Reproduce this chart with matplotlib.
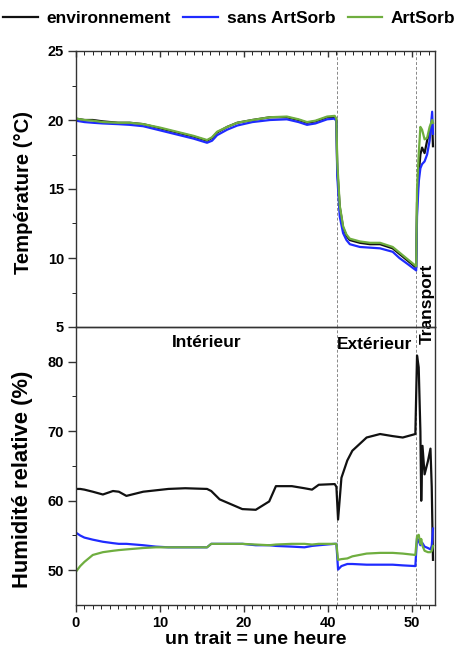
import matplotlib
matplotlib.use("Agg")
import matplotlib.pyplot as plt
from matplotlib.ticker import MultipleLocator, FixedLocator

plt.rcParams['font.family'] = ['Liberation Sans', 'DejaVu Sans']
plt.rcParams['font.weight'] = 'bold'

# ---- data (x in axis position units, one unit = one hour tick) ----
x_temp = [0, 1, 2, 3.2, 5, 6.4, 8, 10, 12, 14,
          15.6, 16.2, 16.8, 18, 19.2, 21, 23.1, 25.1, 26.5, 27.5,
          28.5, 29.9, 30.8, 31.0, 31.1, 31.4, 31.8, 32.2, 32.6, 33.8,
          35, 36.2, 37.7, 38.5, 39.4, 40.5, 40.6, 40.8, 41.0, 41.2,
          41.5, 41.8, 42.1, 42.4, 42.5]
temp_env = [20.1, 20.0, 20.0, 19.9, 19.8, 19.8, 19.7, 19.4, 19.1, 18.8,
            18.5, 18.7, 19.1, 19.5, 19.8, 20.0, 20.2, 20.2, 20.0, 19.8,
            19.9, 20.2, 20.2, 20.0, 16.5, 13.7, 12.2, 11.6, 11.3, 11.1,
            11.0, 11.0, 10.7, 10.3, 9.85, 9.3, 14.0, 16.0, 17.5, 18.0,
            17.6, 18.5, 19.2, 19.8, 18.1]
temp_sans = [19.95, 19.85, 19.8, 19.75, 19.7, 19.65, 19.55, 19.25, 18.95, 18.65,
             18.35, 18.5, 18.9, 19.3, 19.6, 19.85, 20.0, 20.05, 19.85, 19.65,
             19.75, 20.05, 20.1, 19.9, 16.0, 13.0, 11.8, 11.3, 11.0, 10.8,
             10.75, 10.7, 10.45, 10.0, 9.6, 9.1, 13.0, 15.5, 16.5, 16.8,
             17.0, 17.5, 18.5, 20.6, 19.0]
temp_art = [20.1, 20.0, 19.95, 19.85, 19.8, 19.8, 19.7, 19.45, 19.15, 18.85,
            18.55, 18.75, 19.15, 19.5, 19.8, 20.0, 20.2, 20.25, 20.05, 19.85,
            19.95, 20.25, 20.3, 20.1, 17.0, 13.8, 12.3, 11.7, 11.4, 11.2,
            11.1, 11.1, 10.8, 10.4, 9.95, 9.4, 15.0, 17.5, 19.5, 19.3,
            18.6, 18.7, 19.5, 20.0, 19.8]

x_rh = [0, 0.5, 1, 2, 3.2, 4.4, 5.1, 6, 7, 8,
        9.5, 11, 13, 15.6, 16.1, 17.1, 19.8, 21.4, 23.0, 23.8,
        25.7, 27.2, 28.1, 28.9, 30.8, 31.0, 31.2, 31.6, 32.3, 32.9,
        34.6, 36.2, 37.7, 38.9, 40.4, 40.6, 40.8, 41.0, 41.1, 41.25,
        41.5, 41.9, 42.2, 42.35, 42.5]
rh_env = [61.7, 61.7, 61.6, 61.3, 60.9, 61.4, 61.3, 60.7, 61.0, 61.3,
          61.5, 61.7, 61.8, 61.7, 61.4, 60.2, 58.8, 58.7, 59.9, 62.1,
          62.1, 61.8, 61.6, 62.3, 62.4, 62.0, 57.3, 63.3, 65.8, 67.2,
          69.1, 69.6, 69.3, 69.1, 69.6, 80.9, 79.2, 70.0, 60.0, 67.9,
          63.8, 65.7, 67.5, 62.0, 51.5]
rh_sans = [55.4, 55.0, 54.7, 54.4, 54.1, 53.9, 53.8, 53.8, 53.7, 53.6,
           53.4, 53.3, 53.3, 53.3, 53.8, 53.8, 53.8, 53.6, 53.6, 53.5,
           53.4, 53.3, 53.5, 53.6, 53.8, 53.8, 50.1, 50.6, 50.9, 50.9,
           50.8, 50.8, 50.8, 50.7, 50.6, 54.6, 54.2, 53.6, 54.0, 53.9,
           53.4, 53.2, 53.0, 53.5, 56.0]
rh_art = [49.8, 50.6, 51.2, 52.2, 52.6, 52.8, 52.9, 53.0, 53.1, 53.2,
          53.3, 53.3, 53.3, 53.3, 53.8, 53.8, 53.8, 53.7, 53.6, 53.7,
          53.8, 53.8, 53.7, 53.8, 53.8, 53.8, 51.5, 51.6, 51.7, 52.0,
          52.4, 52.5, 52.5, 52.4, 52.2, 54.9, 55.1, 53.8, 54.5, 53.5,
          52.8, 52.6, 52.6, 52.8, 53.5]

series_names = ['environnement', 'sans ArtSorb', 'ArtSorb']
x_tick_pos = [0, 10, 20, 30, 40]
x_tick_labels = ['0', '10', '20', '40', '50']
phase_bounds = [31.07, 40.5]
phase_names = ['Intérieur', 'Extérieur', 'Transport']

colors = ['#111111', '#1f2bff', '#6fae3f']
lw = 1.6

fig = plt.figure(figsize=(4.59, 6.53), dpi=100)
W, H = 459, 653
left, right = 76 / W, 435 / W
ax1 = fig.add_axes([left, 1 - 327 / H, right - left, (327 - 51) / H])
ax2 = fig.add_axes([left, 1 - 605 / H, right - left, (605 - 327) / H], sharex=ax1)
ax2.patch.set_visible(False)

xmax = 42.74
handles = []
for ys, c, n in zip([temp_env, temp_sans, temp_art], colors, series_names):
    h, = ax1.plot(x_temp, ys, color=c, lw=lw, label=n)
    handles.append(h)
for ys, c in zip([rh_env, rh_sans, rh_art], colors):
    ax2.plot(x_rh, ys, color=c, lw=lw)

for ax in (ax1, ax2):
    for b in phase_bounds:
        ax.axvline(b, color='#888888', lw=0.7, ls=(0, (3, 2)), zorder=0)
    for s in ax.spines.values():
        s.set_color('#333333')
        s.set_linewidth(1.0)
    ax.tick_params(axis='both', labelsize=10.5, width=1.0, color='#333333', pad=3)
    ax.tick_params(which='major', length=5.5)
    ax.tick_params(which='minor', length=3)

ax1.set_xlim(0, xmax)
ax1.set_ylim(5, 25)
ax1.yaxis.set_major_locator(MultipleLocator(5))
ax1.yaxis.set_minor_locator(MultipleLocator(2.5))
ax1.xaxis.set_major_locator(FixedLocator(x_tick_pos))
ax1.xaxis.set_minor_locator(MultipleLocator(1))
ax1.tick_params(axis='x', which='both', bottom=False, top=True, direction='in', labelbottom=False)
ax1.tick_params(axis='x', which='major', length=4)
ax1.tick_params(axis='y', which='both', direction='out')

ax2.set_ylim(45, 85)
ax2.set_yticks([50, 60, 70, 80])
ax2.yaxis.set_minor_locator(FixedLocator([55, 65, 75]))
ax2.set_xticks(x_tick_pos)
ax2.set_xticklabels(x_tick_labels)
ax2.tick_params(axis='x', which='both', direction='out', bottom=True, top=False)
ax2.tick_params(axis='x', which='major', length=5)
ax2.tick_params(axis='y', which='both', direction='out')

for lab in ax1.get_yticklabels() + ax2.get_yticklabels() + ax2.get_xticklabels():
    lab.set_fontweight('bold')

ax1.set_ylabel('Température (°C)', fontsize=14.6, fontweight='bold')
ax2.set_ylabel('Humidité relative (%)', fontsize=15.8, fontweight='bold')
ax2.set_xlabel('un trait = une heure', fontsize=14, fontweight='bold', labelpad=1)
ax1.yaxis.set_label_coords(-0.12, 0.489)
ax2.yaxis.set_label_coords(-0.12, 0.453)

ax2.text(15.6, 82.7, phase_names[0], ha='center', va='center', fontsize=12.5, fontweight='bold')
ax2.text(35.6, 82.5, phase_names[1], ha='center', va='center', fontsize=12.5, fontweight='bold')
ax1.text(41.8, 6.7, phase_names[2], ha='center', va='center', rotation=90,
         fontsize=12.5, fontweight='bold', clip_on=False, zorder=10)

fig.legend(handles=handles, loc='center', bbox_to_anchor=(0.5, 1 - 18 / H), ncol=3,
           frameon=False, handlelength=2.0, columnspacing=0.7,
           handletextpad=0.5, prop={'weight': 'bold', 'size': 12.5})

fig.savefig('out.png', dpi=100)
